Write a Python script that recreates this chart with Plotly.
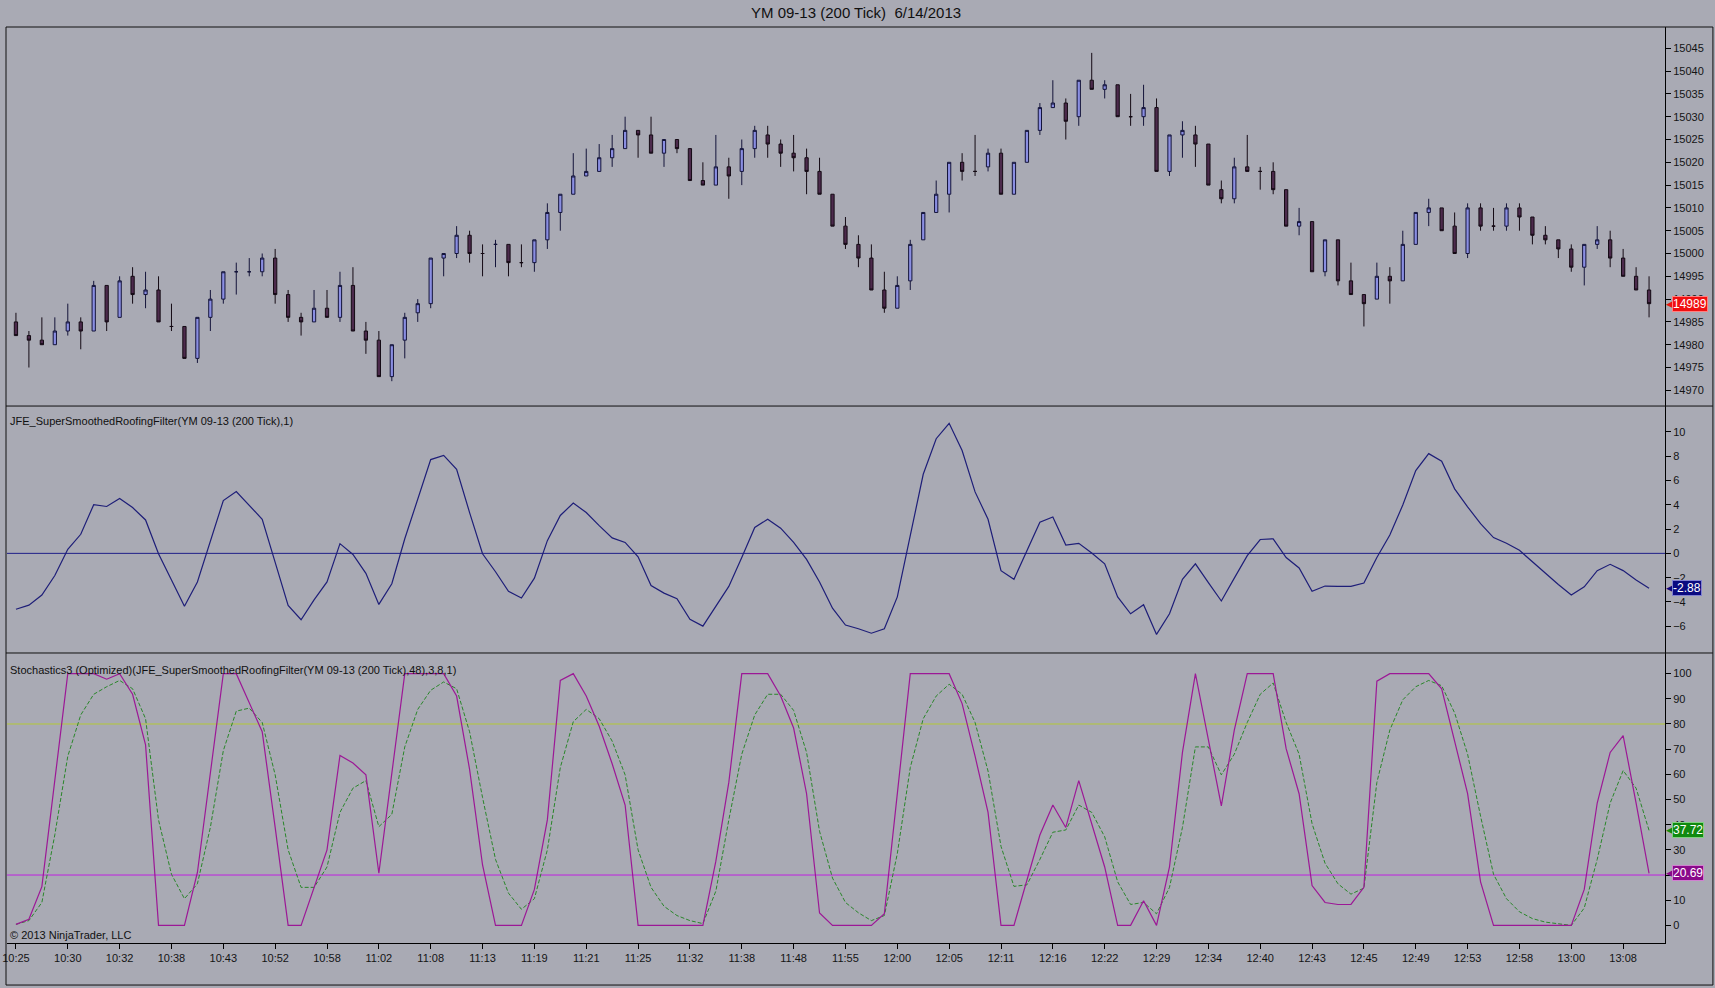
import plotly.graph_objects as go
from plotly.subplots import make_subplots

# 200 tick bars, YM 09-13, 6/14/2013
bar_idx = list(range(127))
opens = [14985, 14982, 14981, 14980, 14983, 14985, 14983, 14993, 14986, 14995,
         14991, 14992, 14984, 14984, 14977, 14986, 14990, 14996, 14996, 14996,
         14999, 14991, 14986, 14985, 14988, 14986, 14993, 14983, 14981, 14973,
         14981, 14987, 14989, 14999, 15000, 15004, 15000, 15002, 15002, 14998,
         14998, 15003, 15009, 15013, 15017, 15018, 15021, 15023, 15027, 15026,
         15022, 15025, 15023, 15016, 15015, 15019, 15018, 15023, 15026, 15024,
         15022, 15021, 15018, 15013, 15006, 15002, 14999, 14992, 14988, 14994,
         15003, 15009, 15013, 15020, 15018, 15019, 15022, 15013, 15020, 15027,
         15032, 15033, 15030, 15038, 15036, 15037, 15030, 15030, 15032, 15018,
         15026, 15026, 15024, 15014, 15012, 15019, 15018, 15018, 15014, 15006,
         15007, 14996, 15003, 14994, 14991, 14990, 14995, 14994, 15002, 15009,
         15010, 15006, 15000, 15010, 15006, 15006, 15010, 15008, 15004, 15003,
         15001, 14997, 15002, 15003, 14999, 14995, 14992]
highs = [14987, 14983, 14986, 14986, 14989, 14986, 14994, 14993, 14995, 14997,
         14996, 14995, 14989, 14984, 14986, 14992, 14996, 14998, 14999, 15000,
         15001, 14992, 14987, 14992, 14992, 14996, 14997, 14985, 14983, 14980,
         14987, 14990, 14999, 15000, 15006, 15005, 15002, 15003, 15002, 15002,
         15003, 15011, 15013, 15022, 15023, 15024, 15026, 15030, 15027, 15030,
         15025, 15025, 15023, 15020, 15026, 15021, 15025, 15028, 15028, 15025,
         15026, 15023, 15021, 15013, 15008, 15004, 15002, 14996, 14995, 15003,
         15009, 15016, 15020, 15022, 15026, 15023, 15023, 15020, 15027, 15033,
         15038, 15034, 15038, 15044, 15038, 15037, 15035, 15037, 15034, 15026,
         15029, 15028, 15024, 15016, 15021, 15026, 15019, 15020, 15014, 15010,
         15007, 15003, 15003, 14998, 14991, 14998, 14997, 15005, 15009, 15012,
         15010, 15009, 15011, 15011, 15010, 15011, 15011, 15008, 15006, 15003,
         15002, 15002, 15006, 15005, 15001, 14997, 14995]
lows = [14982, 14975, 14980, 14980, 14982, 14979, 14983, 14983, 14986, 14989,
        14988, 14985, 14983, 14977, 14976, 14983, 14989, 14991, 14995, 14995,
        14989, 14985, 14982, 14985, 14986, 14985, 14983, 14978, 14973, 14972,
        14977, 14985, 14988, 14995, 14999, 14998, 14995, 14997, 14995, 14997,
        14996, 15001, 15005, 15013, 15017, 15018, 15019, 15023, 15021, 15022,
        15019, 15022, 15016, 15015, 15015, 15012, 15015, 15021, 15021, 15019,
        15018, 15013, 15013, 15006, 15001, 14997, 14992, 14987, 14988, 14992,
        15003, 15009, 15009, 15016, 15017, 15018, 15013, 15013, 15020, 15026,
        15032, 15025, 15028, 15036, 15034, 15030, 15028, 15028, 15018, 15017,
        15021, 15019, 15015, 15011, 15011, 15018, 15014, 15013, 15006, 15004,
        14996, 14995, 14993, 14991, 14984, 14990, 14989, 14994, 15002, 15006,
        15005, 15000, 14999, 15005, 15005, 15005, 15005, 15002, 15002, 14999,
        14996, 14993, 15001, 14997, 14995, 14992, 14986]
closes = [14982, 14981, 14980, 14983, 14985, 14983, 14993, 14985, 14994, 14991,
          14992, 14985, 14984, 14977, 14986, 14990, 14996, 14996, 14996, 14999,
          14991, 14986, 14985, 14988, 14986, 14993, 14983, 14981, 14973, 14980,
          14986, 14989, 14999, 15000, 15004, 15000, 15000, 15002, 14998, 14998,
          15003, 15009, 15013, 15017, 15018, 15021, 15023, 15027, 15026, 15022,
          15025, 15023, 15016, 15015, 15019, 15017, 15023, 15027, 15024, 15022,
          15021, 15018, 15013, 15006, 15002, 14999, 14992, 14988, 14993, 15002,
          15009, 15013, 15020, 15018, 15018, 15022, 15013, 15020, 15027, 15032,
          15033, 15029, 15038, 15036, 15037, 15030, 15030, 15032, 15018, 15026,
          15027, 15024, 15015, 15012, 15019, 15018, 15018, 15014, 15006, 15007,
          14996, 15003, 14994, 14991, 14989, 14995, 14994, 15002, 15009, 15010,
          15005, 15000, 15010, 15006, 15006, 15010, 15008, 15004, 15003, 15001,
          14997, 15002, 15003, 14999, 14995, 14992, 14989]

# JFE_SuperSmoothedRoofingFilter
roofing = [-4.60, -4.26, -3.43, -1.82, 0.34, 1.57, 4.01, 3.86, 4.51, 3.77,
           2.75, -0.03, -2.19, -4.35, -2.35, 0.99, 4.35, 5.09, 3.98, 2.81,
           -0.74, -4.29, -5.46, -3.83, -2.35, 0.80, -0.09, -1.64, -4.20, -2.50,
           1.20, 4.44, 7.72, 8.06, 6.91, 3.36, -0.03, -1.51, -3.12, -3.67,
           -2.04, 1.05, 3.12, 4.14, 3.36, 2.28, 1.27, 0.90, -0.28, -2.65,
           -3.27, -3.73, -5.43, -5.99, -4.35, -2.72, -0.34, 2.13, 2.81, 2.07,
           0.90, -0.49, -2.35, -4.51, -5.90, -6.20, -6.57, -6.20, -3.58, 1.45,
           6.51, 9.44, 10.71, 8.46, 5.06, 2.81, -1.42, -2.13, 0.28, 2.56,
           2.99, 0.68, 0.83, 0.03, -0.86, -3.58, -4.97, -4.23, -6.67, -4.97,
           -2.13, -0.86, -2.41, -3.92, -2.04, -0.19, 1.14, 1.20, -0.34, -1.20,
           -3.12, -2.69, -2.72, -2.72, -2.44, -0.34, 1.51, 3.98, 6.82, 8.21,
           7.59, 5.31, 3.83, 2.44, 1.30, 0.83, 0.25, -0.71, -1.67, -2.56,
           -3.43, -2.75, -1.42, -0.90, -1.42, -2.19, -2.88]

# Stochastics3 of the filter: %K and %D
stoch_k = [0.4, 2.4, 15.4, 58.0, 100, 100, 100, 97.8, 100, 91.8,
           71.7, 0, 0, 0, 21.0, 60.5, 100, 100, 88.1, 76.9,
           38.9, 0, 0, 15.1, 30.0, 67.5, 64.5, 59.8, 20.7, 60.4,
           100, 100, 100, 100, 91.1, 62.0, 24.0, 0, 0, 0,
           14.3, 41.9, 97.3, 100, 91.1, 79.1, 64.2, 47.8, 0, 0,
           0, 0, 0, 0, 25.5, 56.8, 100, 100, 100, 91.1,
           78.4, 52.3, 4.9, 0, 0, 0, 0, 4.6, 52.3, 100,
           100, 100, 100, 88.1, 67.2, 44.9, 0, 0, 18.0, 35.9,
           47.8, 38.9, 57.5, 40.4, 23.2, 0, 0, 9.8, 0, 23.2,
           68.7, 100, 73.2, 47.5, 77.6, 100, 100, 100, 70.2, 52.3,
           15.8, 9.1, 8.3, 8.3, 15.1, 97.0, 100, 100, 100, 100,
           94.0, 73.2, 52.3, 17.3, 0, 0, 0, 0, 0, 0,
           0, 14.3, 48.6, 68.7, 75.4, 48.6, 20.69]
stoch_d = [0.4, 1.9, 9.1, 36.0, 67.2, 83.6, 91.8, 94.8, 97.3, 94.0,
           82.1, 41.9, 20.3, 10.6, 16.5, 38.9, 69.4, 85.1, 86.3, 80.6,
           59.8, 30.0, 15.1, 15.1, 23.2, 44.9, 54.5, 57.5, 39.2, 44.1,
           70.9, 85.8, 93.4, 96.7, 94.0, 76.9, 50.8, 26.2, 12.8, 6.4,
           10.6, 30.0, 62.7, 80.9, 85.8, 82.1, 73.2, 59.8, 30.0, 15.1,
           7.6, 3.9, 1.9, 0.7, 13.6, 41.9, 68.0, 83.6, 91.8, 91.8,
           85.4, 68.7, 37.4, 18.8, 9.1, 5.0, 1.9, 3.9, 28.5, 62.7,
           82.1, 91.1, 95.8, 91.8, 80.6, 61.3, 31.4, 15.5, 16.1, 26.2,
           37.0, 37.9, 47.8, 44.9, 35.2, 17.3, 8.3, 9.1, 4.6, 15.1,
           38.9, 70.9, 70.9, 59.8, 68.0, 80.6, 91.8, 96.3, 80.6, 68.0,
           40.4, 24.7, 16.5, 12.4, 14.8, 56.8, 77.6, 89.6, 94.8, 97.3,
           95.2, 84.4, 68.0, 43.4, 20.3, 10.6, 5.4, 2.7, 1.3, 0.6,
           0, 6.9, 26.2, 48.6, 61.5, 54.5, 37.72]

tick_bars = list(range(0, 127, 4))
tick_times = ["10:25", "10:30", "10:32", "10:38", "10:43", "10:52", "10:58", "11:02",
              "11:08", "11:13", "11:19", "11:21", "11:25", "11:32", "11:38", "11:48",
              "11:55", "12:00", "12:05", "12:11", "12:16", "12:22", "12:29", "12:34",
              "12:40", "12:43", "12:45", "12:49", "12:53", "12:58", "13:00", "13:08"]

bg = "#A9AAB4"
font = "Liberation Sans, Arial, sans-serif"

fig = make_subplots(rows=3, cols=1, shared_xaxes=True, vertical_spacing=0,
                    row_heights=[379, 247, 290])

fig.add_trace(go.Candlestick(x=bar_idx, open=opens, high=highs, low=lows, close=closes,
                             increasing=dict(fillcolor="#8A8EE2", line=dict(color="#14143A", width=1)),
                             decreasing=dict(fillcolor="#4C2A4C", line=dict(color="#140A14", width=1)),
                             whiskerwidth=0, showlegend=False, name="YM 09-13"),
              row=1, col=1)

fig.add_trace(go.Scatter(x=bar_idx, y=roofing, mode="lines",
                         line=dict(color="#1E1E78", width=1.2), showlegend=False),
              row=2, col=1)

fig.add_trace(go.Scatter(x=bar_idx, y=stoch_d, mode="lines",
                         line=dict(color="#2A862A", width=1, dash="4px,2px"), showlegend=False),
              row=3, col=1)
fig.add_trace(go.Scatter(x=bar_idx, y=stoch_k, mode="lines",
                         line=dict(color="#9C1896", width=1.2), showlegend=False),
              row=3, col=1)

# reference levels
fig.add_hline(y=0, line=dict(color="#202088", width=1), layer="below", row=2, col=1)
fig.add_hline(y=80, line=dict(color="#B4C838", width=1), layer="below", row=3, col=1)
fig.add_hline(y=20, line=dict(color="#C020E0", width=1), layer="below", row=3, col=1)

yax = dict(side="right", showline=True, linecolor="#000000", linewidth=1, ticks="outside",
           ticklen=5, tickcolor="#000000", tickfont=dict(size=11, color="#141414", family=font),
           showgrid=False, zeroline=False, fixedrange=True, tickformat="d")
fig.update_yaxes(yax)
fig.update_yaxes(range=[14966.56, 15049.67], tickvals=list(range(14970, 15046, 5)), row=1, col=1)
fig.update_yaxes(range=[-8.2, 12.13], tickvals=list(range(-6, 11, 2)), row=2, col=1)
fig.update_yaxes(range=[-7.0, 108.2], tickvals=list(range(0, 101, 10)), row=3, col=1)

fig.update_xaxes(range=[-0.69, 127.23], showgrid=False, zeroline=False, rangeslider_visible=False,
                 showticklabels=False, ticks="")
fig.update_xaxes(showticklabels=True, tickvals=tick_bars, ticktext=tick_times, ticks="outside",
                 ticklen=5, tickcolor="#000000", showline=True, linecolor="#000000", linewidth=1,
                 ticklabeloverflow="allow",
                 tickfont=dict(size=11, color="#141414", family=font), row=3, col=1)

# frame and panel separators
shapes = [
    dict(type="rect", xref="paper", yref="paper", x0=-0.0006, x1=1.0289, y0=-0.0459, y1=1.0,
         line=dict(color="#101010", width=1)),
    dict(type="line", xref="paper", yref="paper", x0=-0.0006, x1=1.0289, y0=0.5862, y1=0.5862,
         line=dict(color="#101010", width=1)),
    dict(type="line", xref="paper", yref="paper", x0=-0.0006, x1=1.0289, y0=0.3166, y1=0.3166,
         line=dict(color="#101010", width=1)),
]
for s in shapes:
    fig.add_shape(s)

ann = [
    dict(text="YM 09-13 (200 Tick)&nbsp; 6/14/2013", x=0.5123, y=1.0153, xanchor="center",
         yanchor="middle", font=dict(size=15, color="#101010")),
    dict(text="JFE_SuperSmoothedRoofingFilter(YM 09-13 (200 Tick),1)", x=0.0008, y=0.5698,
         xanchor="left", yanchor="middle", font=dict(size=11, color="#101010")),
    dict(text="Stochastics3 (Optimized)(JFE_SuperSmoothedRoofingFilter(YM 09-13 (200 Tick),48),3,8,1)",
         x=0.0008, y=0.2981, xanchor="left", yanchor="middle", font=dict(size=11, color="#101010")),
    dict(text="© 2013 NinjaTrader, LLC", x=0.0008, y=0.0087, xanchor="left", yanchor="middle",
         font=dict(size=11, color="#101010")),
]
for a in ann:
    fig.add_annotation(xref="paper", yref="paper", showarrow=False, font_family=font, **a)

# last value tags on the price scale
tags = [
    (closes[-1], "y", "14989", "#F01010", "#FF8080"),
    (roofing[-1], "y2", "-2.88", "#0A0A80", "#8080D0"),
    (stoch_d[-1], "y3", "37.72", "#108A10", "#80D080"),
    (stoch_k[-1], "y3", "20.69", "#8A0A8A", "#D080D0"),
]
for val, yr, txt, col, edge in tags:
    fig.add_annotation(x=1, xref="paper", y=val, yref=yr, text="◀", showarrow=False,
                       xanchor="right", yanchor="middle", xshift=10,
                       font=dict(size=9, color=col, family="DejaVu Sans"))
    fig.add_annotation(x=1, xref="paper", y=val, yref=yr, text=txt, showarrow=False,
                       xanchor="left", yanchor="middle", xshift=7, bgcolor=col, bordercolor=edge,
                       borderwidth=1, borderpad=0, font=dict(size=12, color="#FFFFFF", family=font))

fig.update_layout(width=1715, height=988, paper_bgcolor=bg, plot_bgcolor=bg,
                  margin=dict(l=2, r=50, t=27, b=45), boxgap=0.64,
                  font=dict(family=font, color="#101010"), showlegend=False)

# page body margin off so the chart sits at the window corner
fig.write_html("out.html", config={"displayModeBar": False},
               post_script="document.body.style.margin='0px';")
